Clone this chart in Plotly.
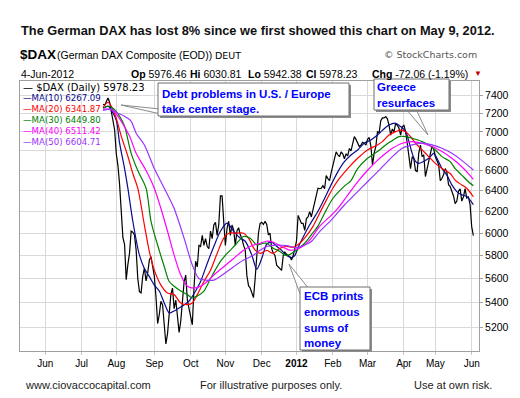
import plotly.graph_objects as go

# ---------------- data ----------------
dax_dates = [
    "2011-07-20", "2011-07-21", "2011-07-22", "2011-07-25", "2011-07-26", "2011-07-27", "2011-07-28", "2011-07-29",
    "2011-08-01", "2011-08-02", "2011-08-03", "2011-08-04", "2011-08-05", "2011-08-08", "2011-08-09", "2011-08-10",
    "2011-08-11", "2011-08-12", "2011-08-15", "2011-08-16", "2011-08-17", "2011-08-18", "2011-08-19", "2011-08-22",
    "2011-08-23", "2011-08-24", "2011-08-25", "2011-08-26", "2011-08-29", "2011-08-30", "2011-08-31",
    "2011-09-01", "2011-09-02", "2011-09-05", "2011-09-06", "2011-09-07", "2011-09-08", "2011-09-09", "2011-09-12",
    "2011-09-13", "2011-09-14", "2011-09-15", "2011-09-16", "2011-09-19", "2011-09-20", "2011-09-21", "2011-09-22",
    "2011-09-23", "2011-09-26", "2011-09-27", "2011-09-28", "2011-09-29", "2011-09-30",
    "2011-10-03", "2011-10-04", "2011-10-05", "2011-10-06", "2011-10-07", "2011-10-10", "2011-10-11", "2011-10-12",
    "2011-10-13", "2011-10-14", "2011-10-17", "2011-10-18", "2011-10-19", "2011-10-20", "2011-10-21", "2011-10-24",
    "2011-10-25", "2011-10-26", "2011-10-27", "2011-10-28", "2011-10-31",
    "2011-11-01", "2011-11-02", "2011-11-03", "2011-11-04", "2011-11-07", "2011-11-08", "2011-11-09", "2011-11-10",
    "2011-11-11", "2011-11-14", "2011-11-15", "2011-11-16", "2011-11-17", "2011-11-18", "2011-11-21", "2011-11-22",
    "2011-11-23", "2011-11-24", "2011-11-25", "2011-11-28", "2011-11-29", "2011-11-30",
    "2011-12-01", "2011-12-02", "2011-12-05", "2011-12-06", "2011-12-07", "2011-12-08", "2011-12-09", "2011-12-12",
    "2011-12-13", "2011-12-14", "2011-12-15", "2011-12-16", "2011-12-19", "2011-12-20", "2011-12-21", "2011-12-22",
    "2011-12-23", "2011-12-27", "2011-12-28", "2011-12-29", "2011-12-30",
    "2012-01-02", "2012-01-03", "2012-01-04", "2012-01-05", "2012-01-06", "2012-01-09", "2012-01-10", "2012-01-11",
    "2012-01-12", "2012-01-13", "2012-01-16", "2012-01-17", "2012-01-18", "2012-01-19", "2012-01-20", "2012-01-23",
    "2012-01-24", "2012-01-25", "2012-01-26", "2012-01-27", "2012-01-30", "2012-01-31",
    "2012-02-01", "2012-02-02", "2012-02-03", "2012-02-06", "2012-02-07", "2012-02-08", "2012-02-09", "2012-02-10",
    "2012-02-13", "2012-02-14", "2012-02-15", "2012-02-16", "2012-02-17", "2012-02-20", "2012-02-21", "2012-02-22",
    "2012-02-23", "2012-02-24", "2012-02-27", "2012-02-28", "2012-02-29",
    "2012-03-01", "2012-03-02", "2012-03-05", "2012-03-06", "2012-03-07", "2012-03-08", "2012-03-09", "2012-03-12",
    "2012-03-13", "2012-03-14", "2012-03-15", "2012-03-16", "2012-03-19", "2012-03-20", "2012-03-21", "2012-03-22",
    "2012-03-23", "2012-03-26", "2012-03-27", "2012-03-28", "2012-03-29", "2012-03-30",
    "2012-04-02", "2012-04-03", "2012-04-04", "2012-04-05", "2012-04-10", "2012-04-11", "2012-04-12", "2012-04-13",
    "2012-04-16", "2012-04-17", "2012-04-18", "2012-04-19", "2012-04-20", "2012-04-23", "2012-04-24", "2012-04-25",
    "2012-04-26", "2012-04-27", "2012-04-30",
    "2012-05-02", "2012-05-03", "2012-05-04", "2012-05-07", "2012-05-08", "2012-05-09", "2012-05-10", "2012-05-11",
    "2012-05-14", "2012-05-15", "2012-05-16", "2012-05-17", "2012-05-18", "2012-05-21", "2012-05-22", "2012-05-23",
    "2012-05-24", "2012-05-25", "2012-05-28", "2012-05-29", "2012-05-30", "2012-05-31",
    "2012-06-01", "2012-06-04",
]
dax_close = [
    7300, 7290, 7330, 7370, 7320, 7220, 7120, 7020,
    6770, 6650, 6460, 6180, 5960, 5900, 5590, 5720, 5820, 6020, 6010, 5985, 5850, 5600, 5490, 5480,
    5620, 5690, 5580, 5650, 5760, 5790, 5700,
    5620, 5450, 5230, 5300, 5410, 5380, 5190, 5070, 5150, 5300, 5465, 5520, 5350, 5420, 5300, 5160,
    5250, 5400, 5570, 5630, 5420, 5350,
    5280, 5220, 5520, 5750, 5700, 5890, 5880, 5980, 5890, 5950, 5880, 5860, 6020, 5950, 6075, 6100,
    5980, 6080, 6350, 6350, 6105,
    5890, 6045, 6110, 5980, 6075, 6030, 5890, 6020, 6050, 5985, 5950, 5890, 5850, 5625, 5540, 5520,
    5480, 5440, 5600, 5850, 6000, 6090,
    6100, 6080, 6110, 6080, 5985, 6000, 5860, 5820, 5800, 5715, 5700, 5687, 5670, 5800, 5830, 5810,
    5800, 5790, 5760, 5800, 5860,
    5925, 6165, 6120, 6090, 6090, 6025, 6135, 6150, 6200, 6150, 6220, 6300, 6355, 6425, 6420, 6425,
    6450, 6420, 6550, 6520, 6500, 6580,
    6650, 6740, 6790, 6760, 6740, 6790, 6770, 6720, 6770, 6750, 6825, 6800, 6870, 6950, 6920, 6880,
    6845, 6860, 6890, 6880, 6860,
    6920, 6940, 6850, 6655, 6780, 6845, 7000, 6990, 7120, 7150, 7150, 7165, 7140, 7070, 6965, 7030,
    7000, 7090, 7070, 7040, 6965, 7055,
    7070, 7005, 6880, 6760, 6620, 6740, 6720, 6600, 6590, 6780, 6860, 6740, 6760, 6540, 6620, 6720,
    6800, 6850, 6820,
    6740, 6700, 6660, 6500, 6520, 6560, 6620, 6580, 6460, 6440, 6400, 6350, 6275, 6300, 6395, 6420,
    6300, 6340, 6420, 6330, 6340, 6270,
    6060, 5978.23,
]

ma10_dates = [
    "2011-07-20", "2011-07-25", "2011-07-27", "2011-08-01", "2011-08-03", "2011-08-08", "2011-08-10", "2011-08-15",
    "2011-08-19", "2011-08-24", "2011-08-29", "2011-09-01", "2011-09-06", "2011-09-09", "2011-09-14", "2011-09-19",
    "2011-09-22", "2011-09-27", "2011-09-30", "2011-10-06", "2011-10-11", "2011-10-17", "2011-10-21", "2011-10-27",
    "2011-11-02", "2011-11-08", "2011-11-14", "2011-11-17", "2011-11-23", "2011-11-28", "2011-12-01", "2011-12-06",
    "2011-12-09", "2011-12-14", "2011-12-19", "2011-12-22", "2011-12-28", "2011-12-30", "2012-01-03", "2012-01-06",
    "2012-01-12", "2012-01-19", "2012-01-25", "2012-01-31", "2012-02-06", "2012-02-10", "2012-02-16", "2012-02-22",
    "2012-02-28", "2012-03-05", "2012-03-09", "2012-03-14", "2012-03-20", "2012-03-26", "2012-03-29", "2012-04-03",
    "2012-04-05", "2012-04-11", "2012-04-13", "2012-04-17", "2012-04-20", "2012-04-25", "2012-04-30", "2012-05-03",
    "2012-05-08", "2012-05-11", "2012-05-16", "2012-05-21", "2012-05-24", "2012-05-29", "2012-06-04",
]
ma10_vals = [
    7255, 7280, 7235, 7125, 6880, 6620, 6425, 6110,
    5803, 5687, 5617, 5545, 5495, 5396, 5315, 5331,
    5355, 5380, 5412, 5495, 5575, 5730, 5880, 6018,
    6092, 6018, 5955, 5927, 5803, 5680, 5775, 5900,
    5918, 5882, 5845, 5800, 5782, 5800, 5872, 5963,
    6077, 6203, 6325, 6460, 6587, 6690, 6758, 6810,
    6880, 6914, 6966, 7016, 7073, 7092, 7056, 7005,
    6900, 6775, 6693, 6672, 6693, 6724, 6775, 6724,
    6621, 6554, 6457, 6392, 6360, 6344, 6267.09,
]

ma20_dates = [
    "2011-07-20", "2011-07-25", "2011-07-27", "2011-08-01", "2011-08-04", "2011-08-10", "2011-08-15", "2011-08-18",
    "2011-08-24", "2011-08-29", "2011-09-01", "2011-09-07", "2011-09-13", "2011-09-19", "2011-09-23", "2011-09-29",
    "2011-10-04", "2011-10-07", "2011-10-13", "2011-10-19", "2011-10-25", "2011-10-31", "2011-11-03", "2011-11-10",
    "2011-11-16", "2011-11-21", "2011-11-25", "2011-11-30", "2011-12-06", "2011-12-12", "2011-12-16", "2011-12-22",
    "2011-12-29", "2012-01-04", "2012-01-10", "2012-01-16", "2012-01-20", "2012-01-26", "2012-02-01", "2012-02-07",
    "2012-02-14", "2012-02-22", "2012-03-01", "2012-03-09", "2012-03-14", "2012-03-20", "2012-03-26", "2012-03-29",
    "2012-04-03", "2012-04-10", "2012-04-13", "2012-04-19", "2012-04-25", "2012-05-02", "2012-05-08", "2012-05-15",
    "2012-05-18", "2012-05-24", "2012-05-29", "2012-06-04",
]
ma20_vals = [
    7265, 7322, 7278, 7145, 6955, 6745, 6570, 6425,
    6075, 5835, 5672, 5545, 5478, 5465, 5396, 5382,
    5396, 5465, 5575, 5672, 5818, 5955, 6000, 6000,
    6000, 5955, 5847, 5818, 5845, 5818, 5864, 5880,
    5873, 5909, 5975, 6063, 6185, 6307, 6425, 6521,
    6620, 6724, 6810, 6862, 6897, 6966, 7002, 7019,
    7002, 6950, 6880, 6810, 6741, 6672, 6621, 6570,
    6505, 6457, 6425, 6341.87,
]

ma30_dates = [
    "2011-07-20", "2011-07-25", "2011-07-28", "2011-08-03", "2011-08-08", "2011-08-12", "2011-08-18", "2011-08-25",
    "2011-08-30", "2011-09-05", "2011-09-09", "2011-09-14", "2011-09-19", "2011-09-23", "2011-09-29", "2011-10-04",
    "2011-10-07", "2011-10-13", "2011-10-19", "2011-10-27", "2011-11-02", "2011-11-09", "2011-11-16", "2011-11-22",
    "2011-11-28", "2011-12-02", "2011-12-06", "2011-12-12", "2011-12-16", "2011-12-21", "2011-12-27", "2012-01-02",
    "2012-01-09", "2012-01-13", "2012-01-19", "2012-01-25", "2012-02-01", "2012-02-10", "2012-02-16", "2012-02-22",
    "2012-03-01", "2012-03-09", "2012-03-16", "2012-03-21", "2012-03-28", "2012-04-03", "2012-04-11", "2012-04-19",
    "2012-04-25", "2012-05-02", "2012-05-08", "2012-05-15", "2012-05-18", "2012-05-24", "2012-05-30", "2012-06-04",
]
ma30_vals = [
    7255, 7278, 7255, 7167, 7060, 6775, 6600, 6425,
    6110, 5893, 5704, 5575, 5535, 5495, 5465, 5437,
    5453, 5495, 5600, 5748, 5818, 5893, 5970, 5955,
    5893, 5909, 5909, 5864, 5836, 5803, 5809, 5847,
    5909, 5985, 6065, 6185, 6325, 6445, 6500, 6620,
    6724, 6793, 6862, 6897, 6950, 6950, 6932, 6897,
    6862, 6810, 6741, 6690, 6620, 6554, 6489, 6449.80,
]

ma40_dates = [
    "2011-07-20", "2011-07-26", "2011-07-29", "2011-08-04", "2011-08-11", "2011-08-17", "2011-08-25", "2011-09-01",
    "2011-09-07", "2011-09-13", "2011-09-19", "2011-09-23", "2011-09-29", "2011-10-05", "2011-10-11", "2011-10-17",
    "2011-10-21", "2011-10-31", "2011-11-08", "2011-11-16", "2011-11-24", "2011-11-30", "2011-12-06", "2011-12-12",
    "2011-12-19", "2011-12-27", "2012-01-02", "2012-01-09", "2012-01-13", "2012-01-20", "2012-01-31", "2012-02-06",
    "2012-02-14", "2012-02-22", "2012-03-01", "2012-03-09", "2012-03-16", "2012-03-22", "2012-03-30", "2012-04-11",
    "2012-04-19", "2012-04-27", "2012-05-08", "2012-05-16", "2012-05-24", "2012-05-30", "2012-06-04",
]
ma40_vals = [
    7245, 7245, 7210, 7113, 6955, 6775, 6600, 6425,
    6230, 6018, 5803, 5630, 5535, 5520, 5535, 5575,
    5630, 5702, 5774, 5847, 5893, 5909, 5927, 5918,
    5880, 5847, 5855, 5893, 5955, 6063, 6165, 6230,
    6358, 6488, 6603, 6703, 6775, 6827, 6880, 6897,
    6880, 6845, 6793, 6724, 6638, 6570, 6511.42,
]

ma50_dates = [
    "2011-07-20", "2011-07-27", "2011-08-01", "2011-08-08", "2011-08-12", "2011-08-17", "2011-08-24", "2011-09-01",
    "2011-09-09", "2011-09-19", "2011-09-27", "2011-10-04", "2011-10-10", "2011-10-14", "2011-10-21", "2011-10-31",
    "2011-11-08", "2011-11-16", "2011-11-24", "2011-11-30", "2011-12-06", "2011-12-14", "2011-12-22", "2012-01-02",
    "2012-01-09", "2012-01-13", "2012-01-20", "2012-01-31", "2012-02-10", "2012-02-22", "2012-03-01", "2012-03-09",
    "2012-03-16", "2012-03-22", "2012-03-30", "2012-04-11", "2012-04-19", "2012-04-27", "2012-05-08", "2012-05-16",
    "2012-05-24", "2012-06-04",
]
ma50_vals = [
    7233, 7245, 7210, 7167, 7113, 6985, 6862, 6620,
    6425, 6230, 5955, 5716, 5600, 5587, 5587, 5640,
    5702, 5760, 5803, 5847, 5880, 5893, 5888, 5870,
    5893, 5925, 6015, 6120, 6263, 6392, 6488, 6587,
    6672, 6741, 6827, 6862, 6880, 6862, 6827, 6775,
    6703, 6604.71,
]

month_ticks = ["2011-06-01", "2011-07-01", "2011-08-01", "2011-09-01", "2011-10-03", "2011-11-01",
               "2011-12-01", "2012-01-02", "2012-02-01", "2012-03-01", "2012-04-02", "2012-05-02", "2012-06-01"]
month_labels = ["Jun", "Jul", "Aug", "Sep", "Oct", "Nov", "Dec", "<b>2012</b>",
                "Feb", "Mar", "Apr", "May", "Jun"]
price_ticks = [5200, 5400, 5600, 5800, 6000, 6200, 6400, 6600, 6800, 7000, 7200, 7400]
holidays = ["2011-12-26", "2012-04-06", "2012-04-09", "2012-05-01"]

ohlc_labels = ["Op", "Hi", "Lo", "Cl"]
ohlc_values = [5976.46, 6030.81, 5942.38, 5978.23]
chg_value, chg_pct = -72.06, -1.19
last_date_label = "4-Jun-2012"

# ---------------- figure ----------------
W, H = 520, 398
L, R, T, B = 12, 471, 73, 343
FONT = "Liberation Sans, Arial, sans-serif"
VFONT = "DejaVu Sans, Verdana, sans-serif"


def px(x):
    return (x - L) / (R - L)


def py(y):
    return (B - y) / (B - T)


fig = go.Figure()
fig.add_trace(go.Scatter(x=dax_dates, y=dax_close, mode="lines",
                         line=dict(color="#000000", width=1.2), name="$DAX"))

ma_series = [
    (10, ma10_dates, ma10_vals, "#0a0a8c"),
    (20, ma20_dates, ma20_vals, "#ff0000"),
    (30, ma30_dates, ma30_vals, "#008000"),
    (40, ma40_dates, ma40_vals, "#ff00ff"),
    (50, ma50_dates, ma50_vals, "#9933ff"),
]
for n, d, v, c in ma_series:
    fig.add_trace(go.Scatter(x=d, y=v, mode="lines", name=f"MA({n})",
                             line=dict(color=c, width=1.2, shape="spline", smoothing=0.8)))

shapes = []
annotations = []


def text(x, y, s, size=11, color="#000", family=FONT, xanchor="left", bg=None):
    a = dict(x=px(x), y=py(y), xref="paper", yref="paper", text=s, showarrow=False,
             xanchor=xanchor, yanchor="middle", font=dict(size=size, color=color, family=family),
             borderpad=0)
    if bg:
        a["bgcolor"] = bg
    annotations.append(a)


# Header texts
text(12, 22.5, "<b>The German DAX has lost 8% since we first showed this chart on May 9, 2012.</b>",
     size=12.8, color="#111111")
text(11, 47, "<b>$DAX</b>", size=13.5)
text(48, 47.5, "(German DAX Composite (EOD))", size=10.5)
text(206, 47.5, "DEUT", size=9.5, family=VFONT)
text(470, 47, "\u00a9 StockCharts.com", size=9.5, color="#555555", family=VFONT, xanchor="right")
text(12, 66, last_date_label, size=10.5)
ohlc_x = [122, 181, 239, 297]
for lab, val, xx in zip(ohlc_labels, ohlc_values, ohlc_x):
    text(xx, 66, f"<b>{lab}</b> {val:.2f}", size=10.5)
text(363, 66, f"<b>Chg</b> {chg_value:.2f} ({chg_pct:.2f}%)", size=10.5)
text(465, 65.5, "\u25bc", size=8, color="#c00000")

# Legend (text block top-left of plot)
text(14, 79, f"\u2014 $DAX (Daily) {dax_close[-1]:.2f}", size=10, family=VFONT, bg="#ffffff")
leg_y = [90, 101, 112, 123, 134]
for (n, d, v, c), yy in zip(ma_series, leg_y):
    text(14, yy, f"\u2014MA({n}) {v[-1]:.2f}", size=8.6, color=c, family=VFONT)


# Callout boxes
def callout(x0, y0, x1, y1, wedge, lines, line_y, tx):
    pts = " L ".join(f"{px(a):.5f},{py(b):.5f}" for a, b in wedge)
    shapes.append(dict(type="path", xref="paper", yref="paper", path=f"M {pts} Z",
                       fillcolor="#ffffff", line=dict(color="#8a8a8a", width=1), layer="above"))
    shapes.append(dict(type="rect", xref="paper", yref="paper", x0=px(x0 + 2), x1=px(x1 + 2),
                       y0=py(y1 + 2), y1=py(y0 + 2), fillcolor="#8c8c8c",
                       line=dict(width=0), layer="above"))
    shapes.append(dict(type="rect", xref="paper", yref="paper", x0=px(x0), x1=px(x1),
                       y0=py(y1), y1=py(y0), fillcolor="#ffffff",
                       line=dict(color="#6e6e6e", width=1), layer="above"))
    for s, yy in zip(lines, line_y):
        text(tx, yy, f"<b>{s}</b>", size=11.5, color="#0000ff")


callout(150, 75, 341, 108, [(113, 97), (152, 101), (157, 107)],
        ["Debt problems in U.S. / Europe", "take center stage."], [86, 101.5], 153)
callout(366, 71, 441, 102, [(420, 127), (398, 101), (408, 101)],
        ["Greece", "resurfaces"], [79.5, 94.5], 368)
callout(292, 279, 362, 342, [(281, 256), (294, 291), (301, 281)],
        ["ECB prints", "enormous", "sums of", "money"], [287.5, 303.5, 319.5, 335], 295)

# Footer
text(16, 377, "www.ciovaccocapital.com", size=11, color="#222222")
text(191, 377, "For illustrative purposes only.", size=11, color="#222222")
text(405, 377, "Use at own risk.", size=11, color="#222222")

fig.update_layout(
    width=W, height=H,
    margin=dict(l=L, r=W - R, t=T, b=H - B, pad=0),
    paper_bgcolor="#ffffff", plot_bgcolor="#ffffff",
    showlegend=False,
    shapes=shapes, annotations=annotations,
    xaxis=dict(
        type="date",
        range=["2011-05-10 18:00", "2012-06-07 10:00"],
        rangebreaks=[dict(bounds=["sat", "mon"]), dict(values=holidays)],
        tickmode="array", tickvals=month_ticks, ticktext=month_labels,
        showgrid=True, gridcolor="#d9d9d9", gridwidth=1,
        showline=True, linecolor="#a0a0a0", linewidth=1, mirror=True,
        ticks="outside", ticklen=3, tickcolor="#c8c8c8",
        tickfont=dict(size=10, color="#000000", family=FONT),
        zeroline=False, automargin=False, fixedrange=True,
    ),
    yaxis=dict(
        type="log",
        range=[3.70035, 3.87868],
        side="right",
        tickmode="array", tickvals=price_ticks, ticktext=[str(v) for v in price_ticks],
        showgrid=True, gridcolor="#d9d9d9", gridwidth=1,
        showline=True, linecolor="#a0a0a0", linewidth=1, mirror=True,
        ticks="outside", ticklen=3, tickcolor="#a0a0a0",
        tickfont=dict(size=10.5, color="#000000", family=FONT),
        zeroline=False, automargin=False, fixedrange=True,
    ),
)

fig.write_html("out.html")
